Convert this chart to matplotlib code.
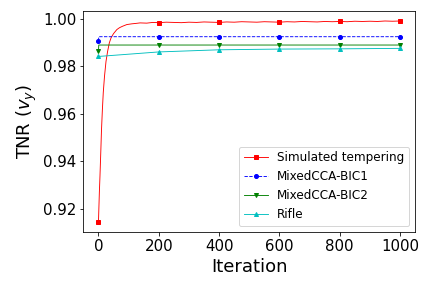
import matplotlib
matplotlib.use('Agg')
import matplotlib.pyplot as plt

# --------------------------------------------------------------------------------
# DATA
# --------------------------------------------------------------------------------
st_iter = [0, 3, 5, 8, 10, 13, 16, 20, 25, 30, 36, 42, 50, 61, 70, 80, 94, 110,
           125, 138, 160, 180, 200, 225, 250, 275, 300, 325, 350, 375, 400, 425,
           450, 475, 500, 525, 550, 575, 600, 625, 650, 675, 700, 725, 750, 775,
           800, 825, 850, 875, 900, 925, 950, 975, 1000]
st_tnr = [0.9145, 0.9270, 0.9337, 0.9450, 0.9530, 0.9617, 0.9690, 0.9757, 0.9820,
          0.9860, 0.9898, 0.9920, 0.9937, 0.9954, 0.9962, 0.9968, 0.9975, 0.9978,
          0.9980, 0.9982, 0.9981, 0.9984, 0.9983, 0.9985, 0.9984, 0.9983, 0.9985,
          0.9984, 0.9986, 0.9985, 0.9984, 0.9986, 0.9985, 0.9987, 0.9986, 0.9985,
          0.9987, 0.9986, 0.9985, 0.9987, 0.9986, 0.9988, 0.9987, 0.9986, 0.9988,
          0.9987, 0.9988, 0.9987, 0.9989, 0.9988, 0.9989, 0.9988, 0.9990, 0.9989,
          0.9990]

bic1_iter = [0, 1, 200, 400, 600, 800, 1000]
bic1_tnr = [0.9906, 0.9924, 0.9924, 0.9924, 0.9924, 0.9924, 0.9924]

bic2_iter = [0, 1, 200, 400, 600, 800, 1000]
bic2_tnr = [0.9862, 0.9889, 0.9889, 0.9889, 0.9889, 0.9889, 0.9889]

rifle_iter = [0, 200, 400, 600, 800, 1000]
rifle_tnr = [0.9841, 0.9860, 0.9869, 0.9872, 0.9873, 0.9875]

marker_iters = [0, 200, 400, 600, 800, 1000]

def mark_idx(xs):
    return [i for i, x in enumerate(xs) if x in marker_iters]

plt.figure(figsize=(6, 4), dpi=72)
plt.plot(st_iter, st_tnr, color='red', linewidth=0.9, marker='s', markersize=4,
         markevery=mark_idx(st_iter), label='Simulated tempering')
plt.plot(bic1_iter, bic1_tnr, color='blue', linestyle='--', linewidth=0.9, marker='o',
         markersize=4, markevery=mark_idx(bic1_iter), label='MixedCCA-BIC1')
plt.plot(bic2_iter, bic2_tnr, color='green', linewidth=0.9, marker='v', markersize=4,
         markevery=mark_idx(bic2_iter), label='MixedCCA-BIC2')
plt.plot(rifle_iter, rifle_tnr, color='c', linewidth=0.9, marker='^', markersize=4,
         label='Rifle')

plt.xlabel('Iteration', fontsize=18)
plt.ylabel(r'TNR ($v_y$)', fontsize=18)
plt.xticks(marker_iters, fontsize=15)
plt.yticks([0.92, 0.94, 0.96, 0.98, 1.00], fontsize=15)

plt.legend(loc='lower right', fontsize=12)
plt.subplots_adjust(left=0.193, right=0.961, top=0.962, bottom=0.194)
plt.savefig('out.png', dpi=72)
